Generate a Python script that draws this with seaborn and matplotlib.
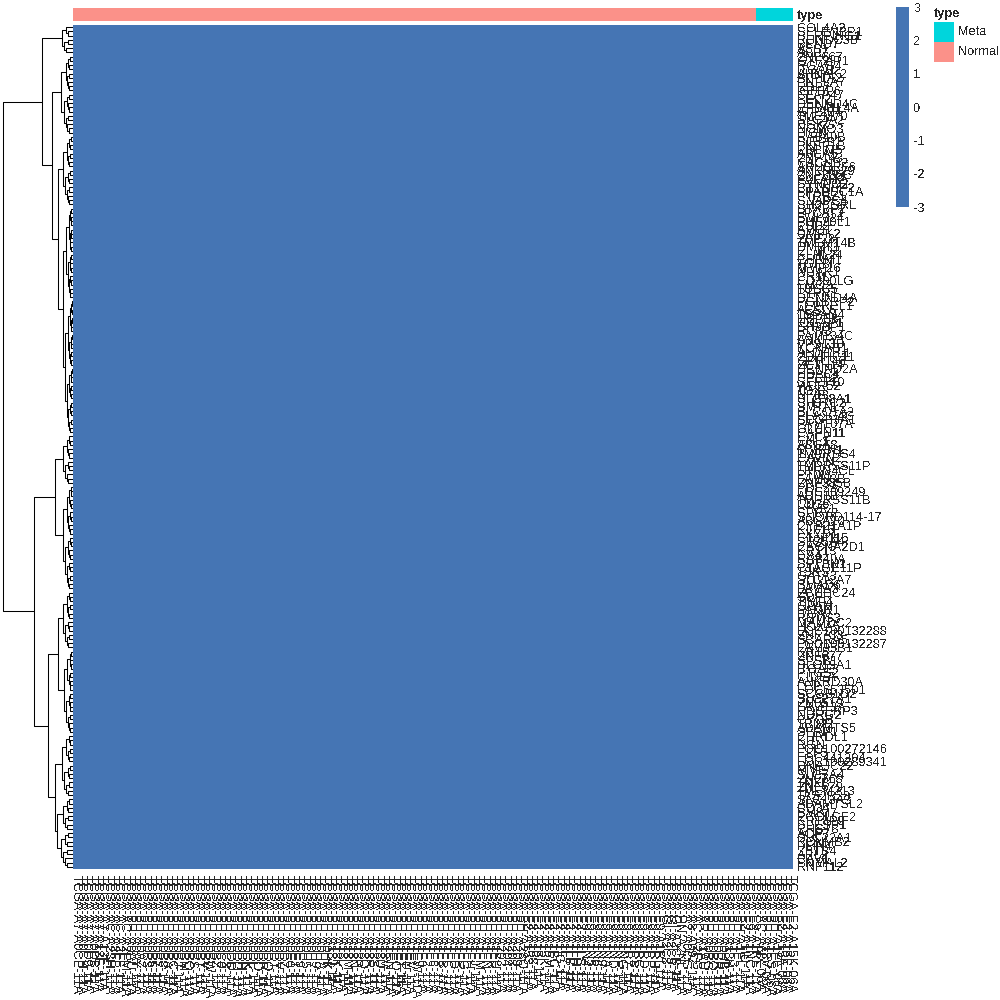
import numpy as np
import pandas as pd
import matplotlib
matplotlib.use("Agg")
import matplotlib.pyplot as plt
import seaborn as sns
from matplotlib.colors import ListedColormap, Normalize
from matplotlib.cm import ScalarMappable
from matplotlib.patches import Rectangle

# gene rows, top to bottom (dendrogram order)
genes = [
    "COL4A2", "SELENBP1", "SERPING1", "RUNDC3B", "BEND7", "ASS1", "ASB7", "ZNF667", "GTF2IP1", "RGAG4",
    "ITGA8", "AHNAK2", "ATP1A2", "PNPLA7", "RBP7", "IGFBP6", "CFAP47", "PELI2", "DENND4C", "EPB41L4A",
    "ATP2B4", "TMEM70", "SLC4A2", "DGKG", "NOMO3", "FIGN", "RAB40B", "SIRPB2", "FKBP1B", "PDLIM5",
    "ABCA5", "ZNF143", "CACNB2", "ARHGEF6", "ANKRD29", "ZNF385C", "PAFAH2", "SYNPO2", "CTTNBP2", "PPAPDC1A",
    "PTPRZ1", "SNAPC4", "SH3BGRL", "STXBP2", "LPCAT2", "SMIM24", "PHF20L1", "PSD2", "AMOT", "CMPK2",
    "ZFP28", "TMEM14B", "DMBT1", "ELMO2", "KLHL24", "CHRM1", "TGFBI", "MMP16", "NUAK1", "CR1L",
    "CD300LG", "FMO2", "TUSC5", "PTPRT", "DENND4A", "PGLYRP2", "LEPREL1", "ACSL5", "TSPAN4", "HSPB8",
    "IQGAP1", "SH3BP1", "RCN3", "FAM134C", "ANKFY1", "VPS13D", "KCNAB1", "ALDH1L1", "ZDHHC11", "GPR146",
    "ZC3H14", "DENND2A", "HDAC4", "CPEB2", "SEPT10", "WDR52", "TOX3", "NFIB", "SLC38A1", "SH3TC2",
    "SMTNL2", "SLCO1A2", "PLA2G4C", "SCGB3A1", "FAM107A", "GLUL", "CAPN11", "EVC2", "CHL1", "ABCA8",
    "MMRN1", "TMPRSS4", "CAVIN2", "EMCN", "TMPRSS11P", "LRRN4CL", "PTMS", "FAM83B", "ZNF385B", "PDE2A",
    "LOC389249", "ADH1B", "TMPRSS11B", "CD36", "LYVE1", "SPRY2", "SNORD114-17", "ABCA10", "CYP21A1P", "KLF15",
    "FXYD1", "C1orf115", "SLC5A4", "CACNA2D1", "KRT13", "CA4", "RAB40A", "SPTBN1", "CTAGE11P", "TSKS",
    "GATA3", "SLC12A7", "SMAD6", "LAMA3", "ZCCHC24", "SDPR", "TIMP4", "GPAM", "PAMR1", "ITGA7",
    "RBMS3", "MAMDC2", "HOXA5", "LOC100132288", "ZNF703", "SCARA5", "LOC100132287", "FAM95B1", "KRT5", "ZNF677",
    "SPSB1", "SLC19A1", "ITGAE", "PTGS2", "CIDEA", "ANKRD30A", "LEP", "LOC653501", "SCGB1D2", "SLC27A1",
    "ZNF519", "FAM13A", "HDGFRP3", "NDRG2", "CYGB", "TRIM2", "ADAMTS5", "SFRP1", "CHRDL1", "KIT",
    "RGN", "LOC100272146", "ELF5", "LOC441204", "LOC100289341", "DNAJC22", "MME", "SLC7A4", "ZNF768", "TNXB",
    "ZNF679", "TMEM213", "TAS2R38", "SLC13A3", "ADAMTSL2", "CD34", "SMIM7", "PCOLCE2", "KRT8P9", "SPESP1",
    "CHST8", "AQP7", "SLC22A1", "KCNMB2", "PLIN4", "ZBTB4", "ARL2", "CAV1", "PNMAL2", "RNF112",
]

normal_patients = """
A7-A0CE A7-A0CH A7-A0D9 A7-A0DB A7-A13E A7-A13F AC-A23H AC-A2FB AC-A2FF AC-A2FM
BH-A0AU BH-A0AY BH-A0AZ BH-A0B3 BH-A0B5 BH-A0B7 BH-A0B8 BH-A0BA BH-A0BC BH-A0BJ
BH-A0BM BH-A0BQ BH-A0BS BH-A0BT BH-A0BV BH-A0BW BH-A0BZ BH-A0C0 BH-A0C3 BH-A0DD
BH-A0DG BH-A0DH BH-A0DK BH-A0DL BH-A0DO BH-A0DP BH-A0DQ BH-A0DT BH-A0DV BH-A0DZ
BH-A0E0 BH-A0E1 BH-A0E9 BH-A0H5 BH-A0H7 BH-A0H9 BH-A0HA BH-A0HK BH-A18J BH-A18K
BH-A18L BH-A18M BH-A18N BH-A18P BH-A18Q BH-A18R BH-A18S BH-A18U BH-A18V BH-A1EN
BH-A1EO BH-A1ET BH-A1EU BH-A1EV BH-A1EW BH-A1F0 BH-A1F2 BH-A1F6 BH-A1F8 BH-A1FB
BH-A1FC BH-A1FD BH-A1FE BH-A1FG BH-A1FH BH-A1FJ BH-A1FM BH-A1FN BH-A1FR BH-A1FU
BH-A203 BH-A204 BH-A208 BH-A209 BH-A28Q E2-A153 E2-A158 E2-A15I E2-A15K E2-A15M
E2-A1BC E2-A1IG E2-A1L7 E2-A1LB E2-A1LH E2-A1LS E9-A1N4 E9-A1N5 E9-A1N6 E9-A1N9
E9-A1NA E9-A1ND E9-A1NF E9-A1NG E9-A1R7 E9-A1RB E9-A1RC E9-A1RD E9-A1RF E9-A1RH
E9-A1RI GI-A2C8 GI-A2C9 GI-A2CB HN-A2NL A7-A0CG A8-A09Z AC-A2FG AR-A1AU BH-A0BG
BH-A0BO BH-A0BR BH-A0HB BH-A18H BH-A1F3 BH-A1FL E2-A1IU E9-A1NC E9-A1RE
""".split()
meta_patients = "AC-A6IX BH-A18V BH-A1ES BH-A1FE E2-A15A E2-A15E E2-A15K".split()

samples = ["TCGA-" + p + "-11A" for p in normal_patients] + ["TCGA-" + p + "-06A" for p in meta_patients]
sample_type = ["Normal"] * len(normal_patients) + ["Meta"] * len(meta_patients)

# every cell shows the same colour
expr = pd.DataFrame(np.full((len(genes), len(samples)), 0.0), index=genes, columns=samples)

# row dendrogram: [height, left, right] or [height, n_leaves] for a tight group
row_tree = [70,
            [31, [11, 7],
                 [21, [12, 19],
                      [15, [10, 17], [10, [7, 22], [8, 32]]]]],
            [39, [18, [10, 12], [10, 25]],
                 [25, [15, [10, 14], [9, 20]],
                      [18, [11, 15], [16, 17]]]]]

cell_color = "#4575B4"
type_colors = {"Meta": "#00D5DC", "Normal": "#FB9189"}

sns.set_style("white")
plt.rcParams["font.family"] = ["Liberation Sans", "DejaVu Sans"]
plt.rcParams["axes.unicode_minus"] = False
plt.rcParams["text.antialiased"] = False
fs = 9.2


def grow(h, n):
    if n == 1:
        return None
    k = n // 2
    return (h, grow(h * 0.62, k), grow(h * 0.78, n - k))


def to_node(spec):
    if len(spec) == 2:
        return grow(spec[0], spec[1])
    return (spec[0], to_node(spec[1]), to_node(spec[2]))


def draw(node, ax, state):
    if node is None:
        y = state[0] + 0.5
        state[0] += 1
        return y, 0.0
    h, a, b = node
    ya, ha = draw(a, ax, state)
    yb, hb = draw(b, ax, state)
    ax.plot([ha, h, h, hb], [ya, ya, yb, yb], color="black", lw=0.75)
    return (ya + yb) / 2, h


fig = plt.figure(figsize=(10, 10), dpi=100)

# main heatmap
ax_hm = fig.add_axes([0.073, 0.131, 0.720, 0.844])
sns.heatmap(expr, ax=ax_hm, cmap=ListedColormap([cell_color]), vmin=-3, vmax=3,
            cbar=False, xticklabels=samples, yticklabels=genes)
ax_hm.yaxis.tick_right()
ax_hm.set_yticklabels(genes, rotation=0, fontsize=fs)
ax_hm.set_xticklabels(samples, rotation=270, fontsize=fs)
ax_hm.tick_params(axis="y", length=0, pad=3)
ax_hm.tick_params(axis="x", length=0, pad=4)
ax_hm.set_xlabel("")
ax_hm.set_ylabel("")

# column annotation
ax_ann = fig.add_axes([0.073, 0.9793, 0.720, 0.0127])
codes = pd.DataFrame([[0 if t == "Meta" else 1 for t in sample_type]])
sns.heatmap(codes, ax=ax_ann, cmap=ListedColormap([type_colors["Meta"], type_colors["Normal"]]),
            vmin=0, vmax=1, cbar=False, xticklabels=False, yticklabels=["type"])
ax_ann.yaxis.tick_right()
ax_ann.set_yticklabels(["type"], rotation=0, fontsize=fs, fontweight="bold")
ax_ann.tick_params(axis="y", length=0, pad=3)

# row dendrogram
ax_den = fig.add_axes([0.0, 0.131, 0.073, 0.844])
draw(to_node(row_tree), ax_den, [0])
ax_den.set_xlim(73, 0)
ax_den.set_ylim(len(genes), 0)
ax_den.axis("off")

# colour bar
ax_cb = fig.add_axes([0.896, 0.793, 0.013, 0.200])
cb = fig.colorbar(ScalarMappable(norm=Normalize(-3, 3), cmap=ListedColormap([cell_color])),
                  cax=ax_cb, ticks=[-3, -2, -1, 0, 1, 2, 3])
cb.outline.set_visible(False)
ax_cb.tick_params(length=0, labelsize=fs, pad=3)

# annotation legend
fig.text(0.934, 1 - 0.014, "type", fontsize=fs, fontweight="bold", va="center", ha="left")
for i, t in enumerate(["Meta", "Normal"]):
    y0 = 1 - 0.042 - 0.020 * i
    fig.add_artist(Rectangle((0.934, y0), 0.020, 0.020, transform=fig.transFigure,
                             facecolor=type_colors[t], edgecolor="none"))
    fig.text(0.958, y0 + 0.010, t, fontsize=fs, va="center", ha="left")

fig.savefig("out.png", dpi=100)
